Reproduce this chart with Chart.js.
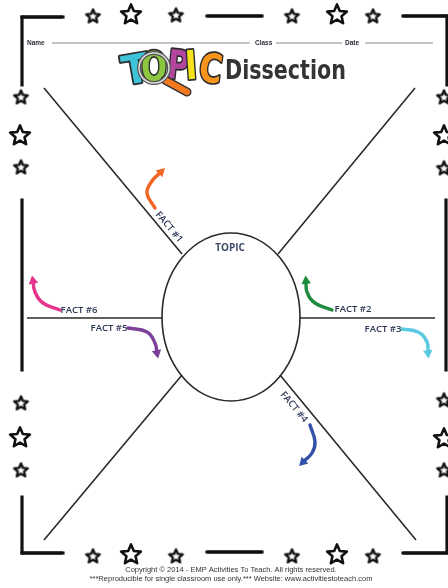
<!DOCTYPE html>
<html>
<head>
<meta charset="utf-8">
<script src="https://cdn.jsdelivr.net/npm/chart.js@4.4.1/dist/chart.umd.min.js"></script>
<style>
html,body{margin:0;padding:0;background:#fff;}
canvas{display:block;}
</style>
</head>
<body>
<canvas id="c" width="448" height="588"></canvas>
<script>
// ---------- data (diagram coordinates in page units) ----------
const frameSegments = [
  [[22,17],[63,17]], [[22,17],[22,85]], [[207,16],[262,16]], [[403,16],[447,16]], [[447,16],[447,85]],
  [[22,200],[22,370]], [[446,200],[446,370]],
  [[22,497],[22,553]], [[22,553],[63,553]], [[207,552],[262,552]], [[403,553],[447,553]], [[447,497],[447,553]]
];
const spokes = [
  [[44,88],[182,254]], [[415,88],[278,254]],
  [[27,318],[162,318]], [[300,318],[435,318]],
  [[44,540],[182,375]], [[280,375],[416,540]]
];
const nameLines = [[[52,43],[250,43]], [[276,43],[342,43]], [[365,43],[433,43]]];
const smallStars = [[93,16],[176,15],[292,16],[373,16],[21,97],[21,167],[21,403],[21,470],
  [444,97],[444,168],[444,400],[444,470],[93,556],[176,556],[292,556],[373,556]];
const largeStars = [[131,14],[337,14],[20,135],[20,437],[444,135],[444,438],[131,554],[337,554]];
const arrowNames = ['FACT #1','FACT #2','FACT #3','FACT #4','FACT #5','FACT #6'];
const arrowPaths = [
  [[155,208],[147,193],[152,181],[161,172]],
  [[332,310],[315,303],[307,292],[306,281]],
  [[402,329],[418,332],[427,342],[428,353]],
  [[310,425],[315,442],[312,453],[303,462]],
  [[128,328],[147,332],[155,343],[157,353]],
  [[60,310],[43,303],[35,292],[33,281]]
];
const arrowColors = ['#f26522','#1e8b3d','#5cc9e2','#3452a8','#7d3f99','#e6338c'];
const factLabelPos = [[169,227,50],[353,309,0],[383,329,0],[294,407,50],[109,328,0],[79,310,0]];
const factLabelWidth = [39,39,38,39,39,39];
const topicEllipse = {cx:231, cy:317, rx:69, ry:84};
const headerTexts = ['Name','Class','Date'];
const headerPos = [[27,45],[255,45],[345,45]];
const headerWidth = [22,18,18];
const titleLetters = ['T','O','P','I','C'];
const titleLetterColors = ['#3ec3d8','#8dc640','#b3479f','#f4e31c','#f7941d'];
const titleLetterPos = [[138,83,-10],[154,81,0],[177,79,6],[192,79,-4],[209,82,8]];
const titleLetterWidth = [30,26,22,12,23];
const titleWord = 'Dissection';
const footerLines = ['Copyright \u00a9 2014 - EMP Activities To Teach. All rights reserved.',
  '***Reproducible for single classroom use only.*** Website: www.activitiestoteach.com'];
const footerPos = [[231,572],[231,581]];
const footerWidth = [212,286];

// ---------- star point images ----------
function starCanvas(size, lw){
  const c = document.createElement('canvas');
  c.width = size; c.height = size;
  const g = c.getContext('2d');
  const R = size/2 - lw, r = R*0.46, cx = size/2, cy = size/2 + R*0.08;
  g.beginPath();
  for(let i=0;i<10;i++){
    const a = -Math.PI/2 + i*Math.PI/5;
    const rr = i%2===0 ? R : r;
    const px = cx + rr*Math.cos(a), py = cy + rr*Math.sin(a);
    i===0 ? g.moveTo(px,py) : g.lineTo(px,py);
  }
  g.closePath();
  g.fillStyle = '#fff'; g.fill();
  g.lineJoin = 'round'; g.lineWidth = lw; g.strokeStyle = '#111'; g.stroke();
  return c;
}
const smallStarImg = starCanvas(19, 2.4);
const largeStarImg = starCanvas(26, 2.6);

// ---------- datasets ----------
const pts = arr => arr.map(p => ({x:p[0], y:p[1]}));
const datasets = [];
frameSegments.forEach(s => datasets.push({data:pts(s), showLine:true, borderColor:'#111', borderWidth:3.2, borderCapStyle:'square', pointRadius:0, clip:false}));
spokes.forEach(s => datasets.push({data:pts(s), showLine:true, borderColor:'#2a2a2a', borderWidth:1.6, pointRadius:0, clip:false}));
nameLines.forEach(s => datasets.push({data:pts(s), showLine:true, borderColor:'#8a8a8a', borderWidth:1.2, pointRadius:0, clip:false}));
arrowPaths.forEach((p,i) => {
  const n = p.length, a = p[n-2], b = p[n-1];
  const rot = Math.atan2(b[0]-a[0], -(b[1]-a[1])) * 180/Math.PI;
  datasets.push({data:pts(p), showLine:true, tension:0.45, borderColor:arrowColors[i], backgroundColor:arrowColors[i],
    borderWidth:3.4, borderCapStyle:'round', pointStyle:'triangle', pointRadius:p.map((q,j)=>j===n-1?5.5:0),
    pointRotation:p.map((q,j)=>j===n-1?rot:0), pointBorderWidth:0, pointBackgroundColor:arrowColors[i], clip:false});
});
datasets.push({data:pts(smallStars), showLine:false, pointStyle:smallStarImg, clip:false});
datasets.push({data:pts(largeStars), showLine:false, pointStyle:largeStarImg, clip:false});

// ---------- drawing plugin ----------
const sheetPlugin = {
  id:'sheet',
  afterDatasetsDraw(chart){
    const ctx = chart.ctx, X = v => chart.scales.x.getPixelForValue(v), Y = v => chart.scales.y.getPixelForValue(v);
    const sx = chart.scales.x.getPixelForValue(1) - chart.scales.x.getPixelForValue(0);
    const sy = chart.scales.y.getPixelForValue(1) - chart.scales.y.getPixelForValue(0);
    ctx.save();
    // topic ellipse
    ctx.beginPath();
    ctx.ellipse(X(topicEllipse.cx), Y(topicEllipse.cy), topicEllipse.rx*sx, Math.abs(topicEllipse.ry*sy), 0, 0, Math.PI*2);
    ctx.lineWidth = 1.6; ctx.strokeStyle = '#2a2a2a'; ctx.stroke();
    // TOPIC label
    ctx.fillStyle = '#3c4a68'; ctx.font = "bold 10px 'Open Sans'"; ctx.textAlign = 'center'; ctx.textBaseline = 'middle';
    ctx.fillText('TOPIC', X(230), Y(248), 30);
    // fact labels
    ctx.fillStyle = '#2b3654'; ctx.font = "600 9.5px 'Open Sans'";
    arrowNames.forEach((t,i) => {
      const p = factLabelPos[i];
      ctx.save(); ctx.translate(X(p[0]), Y(p[1])); ctx.rotate(p[2]*Math.PI/180);
      ctx.fillText(t, 0, 0, factLabelWidth[i]); ctx.restore();
    });
    // header
    ctx.textAlign = 'left'; ctx.textBaseline = 'alphabetic';
    ctx.fillStyle = '#2b2b3a'; ctx.font = "bold 6.5px 'Liberation Sans'";
    headerTexts.forEach((t,i) => ctx.fillText(t, X(headerPos[i][0]), Y(headerPos[i][1]), headerWidth[i]));
    // title logo letters
    ctx.font = "bold 40px 'DejaVu Sans'"; ctx.textAlign = 'center';
    titleLetters.forEach((t,i) => {
      const p = titleLetterPos[i];
      ctx.save(); ctx.translate(X(p[0]), Y(p[1])); ctx.rotate(p[2]*Math.PI/180);
      ctx.lineJoin = 'round'; ctx.lineWidth = 3.5; ctx.strokeStyle = '#2a2a2a';
      ctx.strokeText(t, 0, 0, titleLetterWidth[i]);
      ctx.fillStyle = titleLetterColors[i]; ctx.fillText(t, 0, 0, titleLetterWidth[i]);
      ctx.restore();
    });
    // magnifier
    ctx.beginPath(); ctx.moveTo(X(165), Y(80)); ctx.lineTo(X(187), Y(92));
    ctx.lineCap = 'round'; ctx.lineWidth = 9; ctx.strokeStyle = '#333'; ctx.stroke();
    ctx.lineWidth = 6; ctx.strokeStyle = '#f47a20'; ctx.stroke();
    ctx.beginPath(); ctx.arc(X(154), Y(68), 15, 0, Math.PI*2);
    ctx.lineWidth = 4; ctx.strokeStyle = '#555'; ctx.stroke();
    ctx.lineWidth = 1.5; ctx.strokeStyle = '#ddd'; ctx.stroke();
    // title word
    ctx.textAlign = 'left'; ctx.fillStyle = '#343434'; ctx.font = "bold 26px 'DejaVu Sans'";
    ctx.fillText(titleWord, X(225), Y(79), 121);
    // footer
    ctx.textAlign = 'center'; ctx.fillStyle = '#333'; ctx.font = "7.5px 'Liberation Sans'";
    footerLines.forEach((t,i) => ctx.fillText(t, X(footerPos[i][0]), Y(footerPos[i][1]), footerWidth[i]));
    ctx.restore();
  },
  afterDraw(chart){
    // horizontal frame pieces filled as bars through the scales, on top of everything
    const ctx = chart.ctx, X = v => chart.scales.x.getPixelForValue(v), Y = v => chart.scales.y.getPixelForValue(v);
    ctx.save();
    ctx.globalAlpha = 1; ctx.globalCompositeOperation = 'source-over'; ctx.setLineDash([]);
    ctx.fillStyle = '#111';
    frameSegments.forEach(s => {
      if (s[0][1] === s[1][1]) {
        const x0 = X(Math.min(s[0][0], s[1][0])), x1 = X(Math.max(s[0][0], s[1][0]));
        ctx.fillRect(x0, Y(s[0][1]) - 1.6, x1 - x0, 3.2);
      }
    });
    ctx.restore();
  }
};

new Chart(document.getElementById('c'), {
  type:'scatter',
  data:{datasets},
  options:{
    responsive:false, animation:false, devicePixelRatio:1,
    layout:{padding:0, autoPadding:false},
    plugins:{legend:{display:false}, tooltip:{enabled:false}, title:{display:false}},
    scales:{
      x:{type:'linear', min:0, max:448, display:false},
      y:{type:'linear', min:0, max:588, reverse:true, display:false}
    },
    elements:{line:{fill:false}}
  },
  plugins:[sheetPlugin]
});
</script>
</body>
</html>
